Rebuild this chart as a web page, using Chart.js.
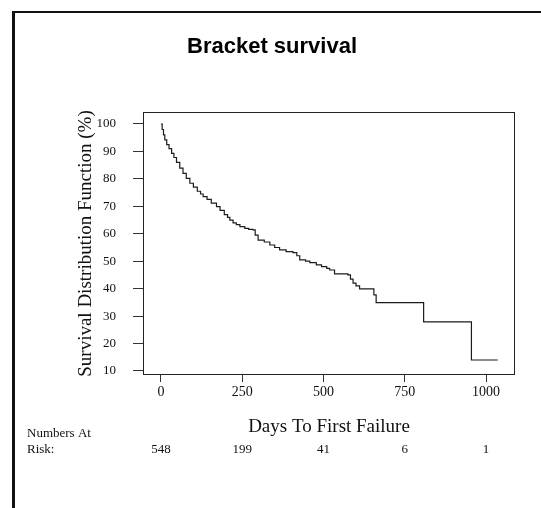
<!DOCTYPE html>
<html>
<head>
<meta charset="utf-8">
<script src="https://cdn.jsdelivr.net/npm/chart.js@4.4.1/dist/chart.umd.min.js"></script>
<style>
  html, body { margin: 0; padding: 0; background: #fff; }
  canvas { display: block; }
</style>
</head>
<body>
<canvas id="myChart" width="541" height="508"></canvas>
<script>
// Kaplan-Meier step points: day of event, survival (%) after it
const days = [0, 4, 8, 12, 18, 25, 33, 40, 48, 58, 68, 78, 89, 100, 112, 122, 130, 142, 155, 171,
  182, 195, 205, 212, 222, 232, 243, 258, 270, 283, 290, 299, 318, 335, 350, 365, 385, 406, 418,
  427, 445, 458, 478, 494, 510, 519, 534, 575, 583, 591, 600, 611, 655, 662, 808, 955, 1036];
const survival = [100, 98, 96, 94.2, 92.5, 91, 89.3, 87.8, 86, 83.9, 82, 80.2, 78.4, 77, 75.5, 74.5,
  73.5, 72.5, 71.2, 69.9, 68.5, 67, 66, 65, 64, 63.3, 62.6, 62, 61.6, 61.4, 59.5, 57.7, 57, 55.9,
  55, 54.1, 53.5, 53.1, 52, 50.5, 50, 49.5, 48.7, 48, 47.4, 46.8, 45.4, 45, 43.5, 42, 41, 39.9,
  37.7, 34.9, 27.9, 14.0, 14.0];

const xTicks = [0, 250, 500, 750, 1000];
const yTicks = [10, 20, 30, 40, 50, 60, 70, 80, 90, 100];

const riskDays = [0, 250, 500, 750, 1000];
const riskCounts = [548, 199, 41, 6, 1];

const serif = "'Liberation Serif', 'Times New Roman', serif";

const decorations = {
  id: 'decorations',
  afterDraw(chart) {
    const { ctx, chartArea: a, scales: { x } } = chart;
    ctx.save();
    // box around the plot
    ctx.strokeStyle = '#222';
    ctx.lineWidth = 1;
    ctx.strokeRect(Math.round(a.left) + 0.5, Math.round(a.top) + 0.5,
      Math.round(a.width) - 1, Math.round(a.height) - 1);
    // page frame (left and top edges)
    ctx.strokeStyle = '#111';
    ctx.lineWidth = 3;
    ctx.beginPath();
    ctx.moveTo(13.5, 11);
    ctx.lineTo(13.5, 508);
    ctx.stroke();
    ctx.lineWidth = 2;
    ctx.beginPath();
    ctx.moveTo(12, 12);
    ctx.lineTo(541, 12);
    ctx.stroke();
    // title
    ctx.fillStyle = '#000';
    ctx.font = "bold 22px 'Liberation Sans', Arial, sans-serif";
    ctx.textAlign = 'center';
    ctx.textBaseline = 'middle';
    ctx.fillText('Bracket survival', 272, 47);
    // numbers at risk
    ctx.fillStyle = '#111';
    ctx.font = '13px ' + serif;
    ctx.textAlign = 'left';
    ctx.fillText('Numbers At', 27, 434);
    ctx.fillText('Risk:', 27, 450);
    ctx.textAlign = 'center';
    riskDays.forEach((d, i) => {
      ctx.fillText(String(riskCounts[i]), x.getPixelForValue(d), 450);
    });
    ctx.restore();
  }
};

const ctx = document.getElementById('myChart').getContext('2d');
new Chart(ctx, {
  type: 'line',
  data: {
    datasets: [{
      data: days.map((d, i) => ({ x: d, y: survival[i] })),
      stepped: true,
      borderColor: '#1c1c1c',
      borderWidth: 1.2,
      pointRadius: 0,
      fill: false
    }]
  },
  options: {
    responsive: false,
    animation: false,
    devicePixelRatio: 1,
    layout: { padding: { top: 112, left: 0, right: 26, bottom: 0 } },
    plugins: {
      legend: { display: false },
      tooltip: { enabled: false },
      title: { display: false }
    },
    scales: {
      x: {
        type: 'linear',
        min: -55,
        max: 1089,
        afterBuildTicks: (s) => { s.ticks = xTicks.map(v => ({ value: v })); },
        afterFit: (s) => { s.height = 133; },
        border: { display: false },
        grid: { drawOnChartArea: false, drawTicks: true, tickLength: 7, color: '#333' },
        ticks: {
          color: '#111',
          font: { family: serif, size: 14 },
          padding: 2,
          maxRotation: 0,
          callback: (v) => String(v)
        },
        title: {
          display: true,
          text: 'Days To First Failure',
          color: '#111',
          font: { family: serif, size: 19 },
          padding: { top: 0, bottom: 70 }
        }
      },
      y: {
        min: 8.54,
        max: 104.37,
        afterBuildTicks: (s) => { s.ticks = yTicks.map(v => ({ value: v })); },
        afterFit: (s) => { s.width = 143; },
        border: { display: false },
        grid: { drawOnChartArea: false, drawTicks: true, tickLength: 10, color: '#333' },
        ticks: { color: '#111', font: { family: serif, size: 13 }, padding: 17 },
        title: {
          display: true,
          text: 'Survival Distribution Function (%)',
          color: '#111',
          font: { family: serif, size: 19 },
          padding: { top: 75, bottom: 0 }
        }
      }
    }
  },
  plugins: [decorations]
});
</script>
</body>
</html>
